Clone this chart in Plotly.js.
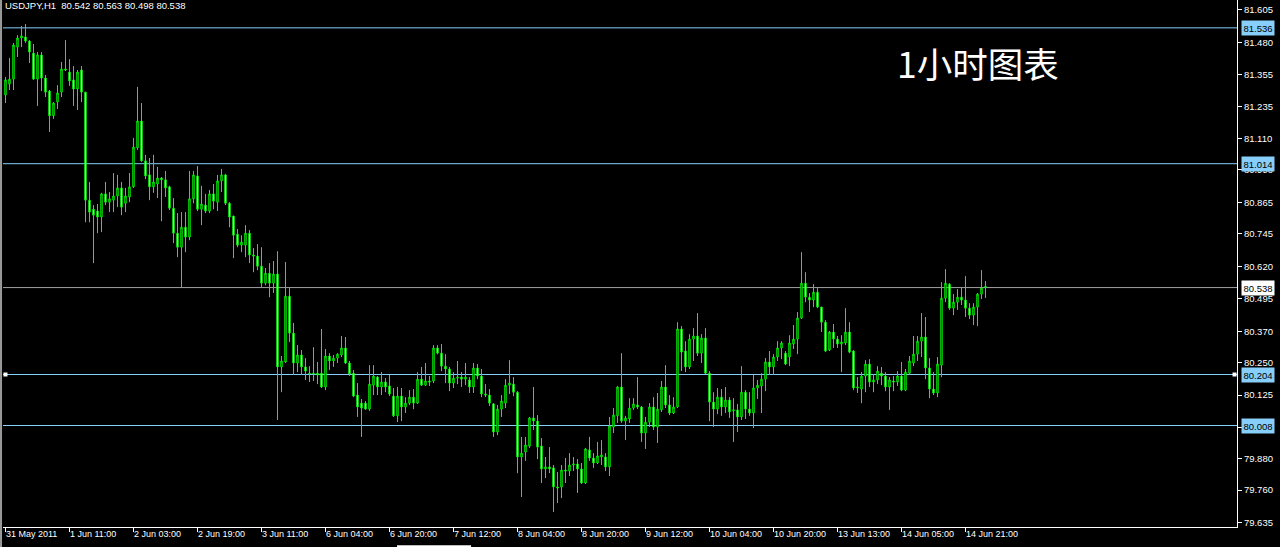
<!DOCTYPE html>
<html>
<head>
<meta charset="utf-8">
<script src="https://cdn.plot.ly/plotly-3.0.1.min.js"></script>
<style>html,body{margin:0;padding:0;background:#000;}#chart{width:1280px;height:547px;}</style>
</head>
<body>
<div id="chart"></div>
<script>
// USDJPY H1, bars from 31 May 2011 19:00 onward (one bar per hour)
const openP = [
81.278,81.320,81.339,81.462,81.497,81.501,81.485,81.439,81.339,81.432,
81.343,81.293,81.198,81.251,81.289,81.378,81.366,81.336,81.301,81.374,
81.289,80.874,80.839,80.832,80.809,80.898,80.866,80.874,80.890,80.921,
80.862,80.886,80.925,81.075,81.178,81.025,80.971,80.925,80.936,80.959,
80.952,80.925,80.843,80.747,80.693,80.770,80.732,80.879,80.967,80.839,
80.855,80.832,80.898,80.866,80.948,80.971,80.862,80.813,80.743,80.701,
80.701,80.747,80.663,80.659,80.620,80.555,80.593,80.555,80.590,80.233,
80.252,80.505,80.363,80.248,80.279,80.233,80.209,80.206,80.209,80.209,
80.156,80.275,80.256,80.267,80.279,80.306,80.248,80.209,80.125,80.094,
80.094,80.071,80.163,80.194,80.156,80.175,80.160,80.121,80.045,80.121,
80.079,80.094,80.117,80.094,80.186,80.163,80.179,80.179,80.306,80.286,
80.236,80.225,80.171,80.190,80.194,80.186,80.183,80.156,80.229,80.198,
80.129,80.125,80.091,79.983,80.071,80.094,80.163,80.167,80.136,79.887,
79.906,79.929,80.037,80.025,79.929,79.841,79.849,79.845,79.772,79.772,
79.837,79.833,79.856,79.860,79.841,79.787,79.914,79.883,79.864,79.887,
79.887,79.849,80.002,80.045,80.156,80.025,80.033,80.075,80.087,80.079,
79.979,80.021,80.079,80.002,80.068,80.156,80.087,80.056,80.079,80.379,
80.294,80.233,80.340,80.352,80.286,80.344,80.209,80.098,80.071,80.117,
80.079,80.106,80.064,80.068,80.041,80.136,80.071,80.056,80.152,80.160,
80.186,80.252,80.233,80.271,80.306,80.286,80.271,80.321,80.340,80.421,
80.555,80.501,80.490,80.520,80.463,80.405,80.298,80.367,80.340,80.321,
80.325,80.367,80.294,80.152,80.148,80.198,80.244,80.175,80.183,80.209,
80.198,80.156,80.179,80.175,80.198,80.144,80.209,80.248,80.282,80.332,
80.348,80.229,80.148,80.133,80.240,80.497,80.551,80.459,80.482,80.501,
80.490,80.459,80.432,80.463,80.513,80.542];
const highP = [
81.347,81.420,81.478,81.508,81.543,81.551,81.489,81.474,81.443,81.443,
81.355,81.297,81.251,81.316,81.405,81.489,81.416,81.389,81.374,81.389,
81.289,80.944,80.855,80.859,80.902,80.944,80.905,80.978,80.971,80.944,
80.921,80.978,81.113,81.309,81.247,81.048,81.036,81.048,81.002,80.963,
80.986,80.929,80.882,80.824,80.828,80.828,80.986,80.986,81.005,80.929,
80.898,80.913,80.936,80.971,80.994,80.975,80.866,80.813,80.763,80.739,
80.778,80.759,80.690,80.705,80.693,80.613,80.632,80.640,80.678,80.275,
80.636,80.536,80.402,80.317,80.298,80.267,80.236,80.309,80.252,80.379,
80.302,80.286,80.279,80.286,80.352,80.348,80.256,80.221,80.171,80.110,
80.102,80.240,80.240,80.198,80.213,80.190,80.202,80.152,80.156,80.152,
80.117,80.144,80.148,80.213,80.233,80.248,80.198,80.317,80.317,80.321,
80.282,80.233,80.213,80.256,80.213,80.248,80.194,80.248,80.244,80.225,
80.167,80.148,80.094,80.087,80.125,80.186,80.259,80.194,80.140,79.964,
79.964,80.041,80.156,80.048,79.960,79.887,79.925,79.856,79.829,79.856,
79.883,79.902,79.887,79.879,79.864,79.922,79.964,79.902,79.945,79.952,
79.902,80.041,80.075,80.160,80.286,80.045,80.113,80.113,80.194,80.083,
80.041,80.094,80.117,80.133,80.179,80.240,80.125,80.117,80.405,80.390,
80.332,80.359,80.382,80.440,80.359,80.382,80.217,80.136,80.152,80.148,
80.156,80.117,80.113,80.091,80.236,80.144,80.136,80.202,80.183,80.209,
80.267,80.294,80.282,80.332,80.332,80.294,80.355,80.394,80.444,80.674,
80.597,80.517,80.551,80.536,80.463,80.413,80.371,80.398,80.352,80.355,
80.459,80.405,80.298,80.194,80.213,80.259,80.263,80.206,80.236,80.233,
80.213,80.194,80.198,80.217,80.252,80.225,80.275,80.352,80.352,80.440,
80.425,80.267,80.213,80.271,80.559,80.609,80.555,80.513,80.532,80.540,
80.582,80.478,80.478,80.517,80.605,80.563];
const lowP = [
81.247,81.297,81.297,81.424,81.462,81.478,81.401,81.336,81.236,81.293,
81.270,81.136,81.186,81.224,81.270,81.370,81.313,81.236,81.220,81.251,
80.789,80.789,80.632,80.747,80.751,80.855,80.828,80.828,80.847,80.816,
80.828,80.866,80.921,81.067,81.021,80.955,80.874,80.902,80.882,80.793,
80.886,80.836,80.709,80.655,80.540,80.674,80.720,80.862,80.832,80.778,
80.824,80.824,80.839,80.832,80.905,80.855,80.770,80.651,80.693,80.674,
80.655,80.632,80.597,80.605,80.540,80.547,80.501,80.517,80.029,80.136,
80.248,80.329,80.202,80.213,80.202,80.183,80.175,80.179,80.167,80.152,
80.144,80.221,80.233,80.248,80.271,80.244,80.198,80.117,80.041,79.964,
80.068,80.064,80.125,80.125,80.125,80.136,80.121,80.041,80.021,80.025,
80.056,80.087,80.071,80.091,80.160,80.160,80.160,80.171,80.282,80.217,
80.171,80.140,80.152,80.167,80.156,80.163,80.133,80.133,80.186,80.117,
80.117,80.083,79.964,79.971,80.041,80.075,80.129,80.121,79.825,79.733,
79.872,79.922,79.991,79.879,79.787,79.806,79.825,79.676,79.710,79.729,
79.787,79.814,79.833,79.749,79.783,79.783,79.872,79.845,79.860,79.856,
79.833,79.814,79.979,80.018,80.018,79.952,80.018,80.068,80.071,79.945,
79.918,80.002,79.991,79.941,80.060,80.075,80.048,80.052,80.075,80.217,
80.213,80.225,80.256,80.275,80.248,80.206,80.025,80.002,80.052,80.045,
80.056,80.037,79.945,79.983,80.029,80.033,80.045,79.998,80.110,80.056,
80.140,80.202,80.202,80.256,80.263,80.240,80.236,80.302,80.282,80.417,
80.482,80.444,80.463,80.459,80.367,80.290,80.294,80.306,80.306,80.213,
80.317,80.286,80.144,80.133,80.094,80.136,80.156,80.136,80.167,80.163,
80.140,80.068,80.140,80.160,80.140,80.140,80.202,80.236,80.256,80.271,
80.186,80.113,80.125,80.117,80.194,80.482,80.452,80.432,80.452,80.471,
80.425,80.417,80.394,80.390,80.494,80.498];
const closeP = [
81.336,81.339,81.470,81.497,81.505,81.485,81.443,81.339,81.432,81.343,
81.289,81.198,81.247,81.286,81.378,81.374,81.332,81.301,81.366,81.289,
80.874,80.828,80.816,80.809,80.898,80.866,80.879,80.890,80.921,80.847,
80.890,80.925,81.078,81.178,81.025,80.967,80.925,80.944,80.959,80.952,
80.921,80.843,80.747,80.693,80.770,80.732,80.879,80.971,80.839,80.859,
80.832,80.898,80.870,80.948,80.971,80.862,80.809,80.739,80.701,80.713,
80.747,80.663,80.659,80.620,80.555,80.593,80.555,80.590,80.233,80.256,
80.505,80.363,80.248,80.279,80.233,80.217,80.206,80.209,80.202,80.156,
80.275,80.256,80.267,80.282,80.306,80.248,80.206,80.121,80.079,80.075,
80.071,80.167,80.198,80.156,80.175,80.156,80.129,80.045,80.121,80.079,
80.094,80.117,80.094,80.186,80.163,80.179,80.175,80.306,80.286,80.236,
80.225,80.171,80.190,80.194,80.186,80.194,80.156,80.229,80.198,80.129,
80.125,80.094,79.983,80.071,80.102,80.163,80.171,80.136,79.887,79.902,
79.933,80.037,80.025,79.925,79.841,79.849,79.841,79.772,79.768,79.837,
79.833,79.856,79.860,79.841,79.787,79.918,79.883,79.864,79.891,79.895,
79.849,80.006,80.048,80.156,80.025,80.037,80.075,80.091,80.079,79.979,
80.021,80.079,80.002,80.071,80.156,80.087,80.056,80.079,80.379,80.290,
80.233,80.340,80.352,80.286,80.344,80.209,80.098,80.071,80.117,80.079,
80.106,80.060,80.068,80.041,80.136,80.071,80.056,80.152,80.163,80.186,
80.252,80.233,80.271,80.306,80.325,80.244,80.325,80.340,80.421,80.555,
80.501,80.490,80.520,80.463,80.405,80.294,80.367,80.340,80.321,80.329,
80.367,80.290,80.152,80.156,80.198,80.244,80.175,80.183,80.217,80.198,
80.156,80.183,80.175,80.198,80.144,80.213,80.256,80.282,80.332,80.348,
80.229,80.148,80.133,80.244,80.497,80.555,80.459,80.482,80.501,80.490,
80.459,80.432,80.463,80.513,80.536,80.538];

// time-axis labels (every 16 bars)
const timeLabels = ['31 May 2011','1 Jun 11:00','2 Jun 03:00','2 Jun 19:00','3 Jun 11:00','6 Jun 04:00','6 Jun 20:00','7 Jun 12:00','8 Jun 04:00','8 Jun 20:00','9 Jun 12:00','10 Jun 04:00','10 Jun 20:00','13 Jun 13:00','14 Jun 05:00','14 Jun 21:00'];
const timeLabelBars = [0,16,32,48,64,80,96,112,128,144,160,176,192,208,224,240];
// price-axis ticks
const priceTicks = [81.605,81.480,81.355,81.235,81.110,80.990,80.865,80.745,80.620,80.495,80.370,80.250,80.125,80.000,79.880,79.760,79.635];
// horizontal levels
const blueLevels = [81.536,81.014,80.204,80.008];
const bidLevel = 80.538;
const selectedLevel = 80.204;
const headerText = 'USDJPY,H1\u00a0\u00a080.542 80.563 80.498 80.538';
const bigText = '1小时图表';

const barIdx = openP.map((_, i) => i);
const FONT = 'Liberation Sans, Arial, sans-serif';
const LINE_BLUE = '#87cefa';

const trace = {
  type: 'candlestick',
  x: barIdx, open: openP, high: highP, low: lowP, close: closeP,
  increasing: {line: {color: '#00ff00', width: 1}, fillcolor: '#000000'},
  decreasing: {line: {color: '#00ff00', width: 1}, fillcolor: '#ffffff'},
  whiskerwidth: 0,
  hoverinfo: 'skip',
  showlegend: false
};

const shapes = [];
blueLevels.forEach(v => shapes.push({type:'line', xref:'paper', x0:0, x1:1, yref:'y', y0:v, y1:v, line:{color:LINE_BLUE, width:1}, layer:'below'}));
shapes.push({type:'line', xref:'paper', x0:0, x1:1, yref:'y', y0:bidLevel, y1:bidLevel, line:{color:'#a0a0a0', width:1}, layer:'below'});
// selection squares on the selected level
[0.002, 0.998].forEach(px => shapes.push({type:'rect', xref:'paper', xsizemode:'pixel', xanchor:px, x0:-2, x1:2, yref:'y', ysizemode:'pixel', yanchor:selectedLevel, y0:-2, y1:2, fillcolor:'#ffffff', line:{width:0}}));
// left window edge
shapes.push({type:'line', xref:'paper', x0:-0.0016, x1:-0.0016, yref:'paper', y0:-0.04, y1:1, line:{color:'#9a9a9a', width:2}});
// small scroll tab at bottom
shapes.push({type:'rect', xref:'paper', x0:0.3193, x1:0.3793, yref:'paper', y0:-0.0345, y1:-0.05, fillcolor:'#ffffff', line:{width:0}});

const annotations = [];
timeLabels.forEach((t, k) => annotations.push({
  text: t, xref:'x', x: timeLabelBars[k], yref:'paper', y:0, xanchor:'left', yanchor:'top',
  showarrow:false, font:{family:FONT, size:9, color:'#ffffff'}, xshift:-1, yshift:-1, borderpad:0
}));
blueLevels.forEach(v => annotations.push({
  text: v.toFixed(3), xref:'paper', x:1, yref:'y', y:v, xanchor:'left', yanchor:'middle',
  showarrow:false, bgcolor: LINE_BLUE, font:{family:FONT, size:9.5, color:'#000000'}, borderpad:1.5, xshift:4
}));
annotations.push({
  text: bidLevel.toFixed(3), xref:'paper', x:1, yref:'y', y:bidLevel, xanchor:'left', yanchor:'middle',
  showarrow:false, bgcolor:'#ffffff', font:{family:FONT, size:9.5, color:'#000000'}, borderpad:1.5, xshift:4
});
annotations.push({
  text: headerText, xref:'paper', x:0, yref:'paper', y:1, xanchor:'left', yanchor:'top',
  showarrow:false, font:{family:FONT, size:9.5, color:'#ffffff'}, xshift:1, yshift:1, borderpad:0
});
annotations.push({
  text: bigText, xref:'paper', x:0.7229, yref:'paper', y:0.882, xanchor:'left', yanchor:'middle',
  showarrow:false, font:{family:'Noto Sans CJK SC', size:35.5, color:'#ffffff'}
});

const layout = {
  width: 1280, height: 547,
  margin: {l:3, r:43, t:0, b:20, pad:0},
  paper_bgcolor: '#000000', plot_bgcolor: '#000000',
  showlegend: false,
  boxgap: 0.5,
  xaxis: {
    range: [-0.625, 307.875], rangeslider: {visible:false},
    showgrid:false, zeroline:false, showline:true, linecolor:'#ffffff', linewidth:1,
    tickmode:'array', tickvals: timeLabelBars, showticklabels:false,
    ticks:'outside', ticklen:4, tickcolor:'#ffffff', tickwidth:1, fixedrange:true
  },
  yaxis: {
    range: [79.618, 81.643], side:'right',
    showgrid:false, zeroline:false, showline:true, linecolor:'#ffffff', linewidth:1,
    tickmode:'array', tickvals: priceTicks, ticktext: priceTicks.map(v => v.toFixed(3)),
    ticks:'outside', ticklen:4, tickcolor:'#ffffff', tickwidth:1,
    tickfont:{family:FONT, size:9.5, color:'#ffffff'}, fixedrange:true
  },
  shapes: shapes,
  annotations: annotations
};

Plotly.newPlot('chart', [trace], layout, {staticPlot:true, displayModeBar:false});
</script>
</body>
</html>
